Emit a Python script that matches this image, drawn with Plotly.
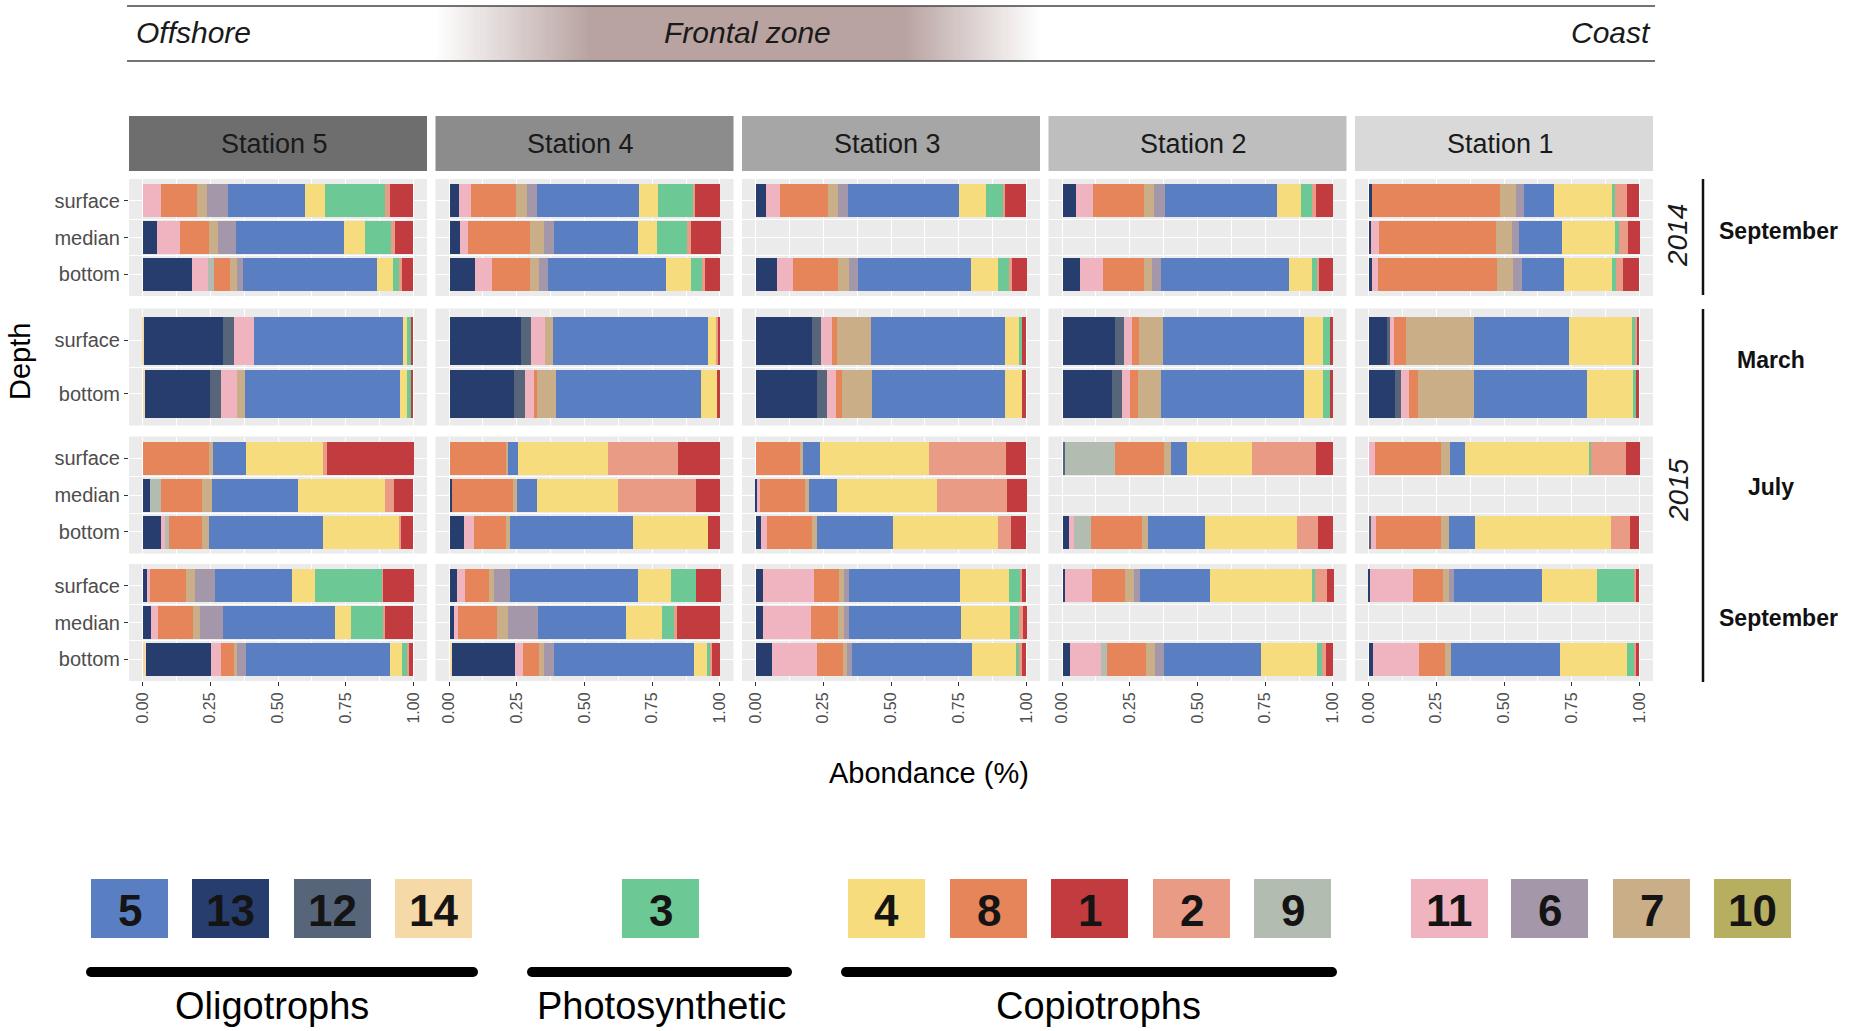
import plotly.graph_objects as go

# ---------------- data ----------------
# stacking order left -> right (cluster ids)
CLUSTERS = ["14", "13", "12", "11", "10", "9", "8", "7", "6", "5", "4", "3", "2", "1"]
COLORS = {
    "5": "#5A7EC2", "13": "#263D6D", "12": "#56657A", "14": "#F5D9A6",
    "3": "#6CC894", "4": "#F6DC7C", "8": "#E6845A", "1": "#C23B3E",
    "2": "#E99B86", "9": "#B2BCB0", "11": "#F0B4C1", "6": "#A497A9",
    "7": "#C9AE87", "10": "#B5AF5F",
}
STATIONS = ["Station 5", "Station 4", "Station 3", "Station 2", "Station 1"]
PERIODS = ["Sep 2014", "Mar 2015", "Jul 2015", "Sep 2015"]
DEPTHS = {
    "Sep 2014": ["surface", "median", "bottom"],
    "Mar 2015": ["surface", "bottom"],
    "Jul 2015": ["surface", "median", "bottom"],
    "Sep 2015": ["surface", "median", "bottom"],
}
DEPTH_POS = {"surface": 3, "median": 2, "bottom": 1}
DEPTH_POS_2 = {"surface": 2, "bottom": 1}
X_TICKS = [0, 0.25, 0.5, 0.75, 1.0]
X_TICKTEXT = ["0.00", "0.25", "0.50", "0.75", "1.00"]

# values per sample, in CLUSTERS order (14,13,12,11,10,9,8,7,6,5,4,3,2,1)
station_5 = {
    ("Sep 2014", "surface"): [0, 0, 0, .069, 0, 0, .132, .036, .079, .285, .072, .222, .018, .087],
    ("Sep 2014", "median"):  [0, .053, 0, .086, 0, 0, .105, .036, .064, .401, .076, .095, .016, .067],
    ("Sep 2014", "bottom"):  [0, .184, 0, .059, 0, .020, .059, .026, .021, .498, .056, .026, .007, .043],
    ("Mar 2015", "surface"): [.007, .291, .039, .076, 0, 0, 0, 0, 0, .549, .015, .013, 0, .010],
    ("Mar 2015", "bottom"):  [.008, .242, .038, .061, 0, 0, 0, .028, 0, .574, .026, .013, 0, .010],
    ("Jul 2015", "surface"): [0, 0, 0, 0, 0, 0, .247, .013, 0, .122, .285, 0, .013, .321],
    ("Jul 2015", "median"):  [0, .028, 0, 0, 0, .041, .151, .038, 0, .317, .319, 0, .035, .071],
    ("Jul 2015", "bottom"):  [0, .069, 0, .015, 0, .015, .122, .026, 0, .419, .283, 0, .005, .046],
    ("Sep 2015", "surface"): [0, .016, 0, .013, 0, 0, .133, .030, .074, .285, .086, .247, .005, .112],
    ("Sep 2015", "median"):  [0, .031, 0, .025, 0, 0, .130, .026, .084, .416, .058, .118, .007, .105],
    ("Sep 2015", "bottom"):  [.012, .240, 0, .036, 0, 0, .048, .013, .033, .530, .046, .021, .005, .016],
}
station_4 = {
    ("Sep 2014", "surface"): [0, .034, 0, .044, 0, 0, .169, .038, .039, .377, .070, .126, .008, .093],
    ("Sep 2014", "median"):  [0, .038, 0, .030, 0, 0, .230, .049, .038, .310, .070, .111, .015, .110],
    ("Sep 2014", "bottom"):  [0, .095, 0, .062, 0, 0, .139, .036, .030, .438, .092, .041, .011, .056],
    ("Mar 2015", "surface"): [0, .262, .038, .053, 0, 0, 0, .030, 0, .571, .033, 0, .007, .006],
    ("Mar 2015", "bottom"):  [0, .239, .041, .030, 0, 0, .013, .069, 0, .538, .059, 0, 0, .010],
    ("Jul 2015", "surface"): [0, 0, 0, 0, 0, 0, .207, .008, 0, .038, .331, 0, .259, .157],
    ("Jul 2015", "median"):  [0, .010, 0, 0, 0, 0, .225, .015, 0, .074, .297, 0, .290, .089],
    ("Jul 2015", "bottom"):  [0, .052, 0, .039, 0, 0, .118, .013, 0, .456, .277, 0, 0, .044],
    ("Sep 2015", "surface"): [0, .026, 0, .030, 0, 0, .089, .020, .059, .470, .125, .089, 0, .093],
    ("Sep 2015", "median"):  [0, .018, 0, .013, 0, 0, .143, .041, .110, .325, .136, .044, .011, .159],
    ("Sep 2015", "bottom"):  [.010, .230, 0, .030, 0, 0, .061, .016, .038, .518, .046, .015, .005, .031],
}
station_3 = {
    ("Sep 2014", "surface"): [0, .038, 0, .054, 0, 0, .177, .036, .036, .411, .099, .061, .010, .077],
    ("Sep 2014", "bottom"):  [0, .081, 0, .058, 0, 0, .166, .041, .032, .416, .102, .038, .012, .055],
    ("Mar 2015", "surface"): [0, .207, .036, .038, 0, 0, .020, .126, 0, .492, .054, .012, 0, .015],
    ("Mar 2015", "bottom"):  [0, .226, .039, .031, 0, 0, .022, .112, 0, .489, .066, 0, 0, .015],
    ("Jul 2015", "surface"): [0, 0, 0, 0, 0, 0, .164, .010, 0, .065, .401, 0, .283, .076],
    ("Jul 2015", "median"):  [0, .006, 0, .010, 0, 0, .167, .016, 0, .100, .372, 0, .257, .073],
    ("Jul 2015", "bottom"):  [0, .019, 0, .025, 0, 0, .164, .017, 0, .283, .387, 0, .049, .055],
    ("Sep 2015", "surface"): [0, .026, 0, .189, 0, 0, .094, .019, .017, .411, .180, .039, .009, .015],
    ("Sep 2015", "median"):  [0, .026, 0, .179, 0, 0, .100, .020, .019, .413, .182, .035, .012, .015],
    ("Sep 2015", "bottom"):  [0, .062, 0, .163, 0, 0, .096, .017, .017, .443, .164, .010, .012, .015],
}
station_2 = {
    ("Sep 2014", "surface"): [0, .049, 0, .064, 0, 0, .187, .039, .041, .411, .091, .038, .015, .065],
    ("Sep 2014", "bottom"):  [0, .064, 0, .084, 0, 0, .152, .029, .033, .473, .084, .019, .010, .051],
    ("Mar 2015", "surface"): [0, .192, .036, .029, 0, 0, .026, .087, 0, .521, .070, .026, 0, .013],
    ("Mar 2015", "bottom"):  [0, .184, .036, .029, 0, 0, .029, .084, 0, .528, .073, .023, 0, .013],
    ("Jul 2015", "surface"): [0, 0, .009, 0, 0, .183, .181, .026, 0, .061, .239, 0, .235, .065],
    ("Jul 2015", "bottom"):  [0, .022, 0, .022, 0, .061, .189, .022, 0, .208, .342, 0, .077, .057],
    ("Sep 2015", "surface"): [0, .010, 0, .099, 0, 0, .122, .033, .022, .258, .376, .012, .044, .025],
    ("Sep 2015", "bottom"):  [0, .029, 0, .112, 0, .022, .145, .033, .032, .358, .208, .017, .016, .028],
}
station_1 = {
    ("Sep 2014", "surface"): [0, .012, 0, 0, 0, 0, .473, .061, .028, .109, .215, .012, .043, .046],
    ("Sep 2014", "median"):  [0, .010, 0, .027, 0, 0, .433, .059, .028, .158, .193, .015, .034, .044],
    ("Sep 2014", "bottom"):  [0, .012, 0, .024, 0, 0, .439, .059, .034, .155, .175, .015, .028, .059],
    ("Mar 2015", "surface"): [0, .067, .011, .017, 0, 0, .042, .251, 0, .353, .233, .010, .006, .010],
    ("Mar 2015", "bottom"):  [0, .098, .022, .029, 0, 0, .032, .207, 0, .420, .169, .010, 0, .012],
    ("Jul 2015", "surface"): [0, 0, 0, .022, 0, 0, .247, .033, 0, .053, .458, .009, .130, .049],
    ("Jul 2015", "bottom"):  [0, 0, .010, .017, 0, 0, .242, .029, 0, .095, .501, 0, .071, .034],
    ("Sep 2015", "surface"): [0, .006, 0, .159, 0, 0, .110, .021, .020, .325, .202, .137, .007, .012],
    ("Sep 2015", "bottom"):  [0, .016, 0, .170, 0, 0, .096, .022, 0, .403, .246, .029, .007, .010],
}
STATION_DATA = [station_5, station_4, station_3, station_2, station_1]

LEGEND_GROUPS = [
    ("Oligotrophs", ["5", "13", "12", "14"]),
    ("Photosynthetic", ["3"]),
    ("Copiotrophs", ["4", "8", "1", "2", "9"]),
    ("", ["11", "6", "7", "10"]),
]

# ---------------- layout helpers ----------------
W, H = 1850, 1031
FONT = "Liberation Sans, Arial, sans-serif"


def fx(x):
    return x / W


def fy(y):
    return 1 - y / H


COL_LEFT = [129, 435.5, 742, 1048.5, 1355]
COL_W = 298
ROW_TOP = [179, 308.5, 436.5, 564]
ROW_H = 117
STRIP_COLORS = ["#6e6e6e", "#8c8c8c", "#a6a6a6", "#bebebe", "#d9d9d9"]

fig = go.Figure()
layout_axes = {}
shapes = []
annotations = []

for r, period in enumerate(PERIODS):
    depths = DEPTHS[period]
    pos_map = DEPTH_POS if len(depths) == 3 else DEPTH_POS_2
    ncat = len(depths)
    for c, st in enumerate(STATIONS):
        k = r * 5 + c + 1
        xa = "x" if k == 1 else f"x{k}"
        ya = "y" if k == 1 else f"y{k}"
        data = STATION_DATA[c]
        samples = [d for d in depths if (period, d) in data]
        for ci, cl in enumerate(CLUSTERS):
            ys = [pos_map[d] for d in samples]
            xs = [data[(period, d)][ci] for d in samples]
            if not any(v > 0 for v in xs):
                continue
            fig.add_trace(go.Bar(
                orientation="h", x=xs, y=ys, width=0.9,
                marker=dict(color=COLORS[cl], line=dict(width=0)),
                xaxis=xa, yaxis=ya, showlegend=False, name=cl,
                hovertemplate=f"cluster {cl}: %{{x:.3f}}<extra></extra>",
            ))
        x0, x1 = COL_LEFT[c], COL_LEFT[c] + COL_W
        y0, y1 = ROW_TOP[r], ROW_TOP[r] + ROW_H
        bottom_row = (r == len(PERIODS) - 1)
        layout_axes[f"xaxis{k}" if k > 1 else "xaxis"] = dict(
            domain=[fx(x0), fx(x1)], anchor=ya, range=[-0.05, 1.05],
            tickvals=X_TICKS, ticktext=X_TICKTEXT, showticklabels=bottom_row,
            tickangle=-90, ticks="outside" if bottom_row else "", ticklen=4,
            tickcolor="#333333", tickwidth=1,
            tickfont=dict(family=FONT, size=16, color="#4d4d4d"),
            showgrid=True, gridcolor="white", gridwidth=1.3, zeroline=False,
            showline=False, fixedrange=True,
            minor=dict(tickvals=[0.125, 0.375, 0.625, 0.875], showgrid=True,
                       gridcolor="white", gridwidth=0.6, ticks=""),
        )
        yv = list(range(1, ncat + 1))
        yt = list(reversed(depths))
        layout_axes[f"yaxis{k}" if k > 1 else "yaxis"] = dict(
            domain=[fy(y1), fy(y0)], anchor=xa, range=[0.4, ncat + 0.6],
            tickvals=yv, ticktext=yt, showticklabels=(c == 0),
            ticks="outside" if c == 0 else "", ticklen=4, tickcolor="#333333",
            tickfont=dict(family=FONT, size=20, color="#4d4d4d"),
            showgrid=True, gridcolor="white", gridwidth=1.3, zeroline=False,
            showline=False, fixedrange=True,
            minor=dict(tickvals=[v + 0.5 for v in yv[:-1]], showgrid=True,
                       gridcolor="white", gridwidth=0.6, ticks=""),
        )

# strips
for c, st in enumerate(STATIONS):
    x0, x1 = COL_LEFT[c], COL_LEFT[c] + COL_W
    shapes.append(dict(type="rect", xref="paper", yref="paper",
                       x0=fx(x0), x1=fx(x1), y0=fy(171), y1=fy(116),
                       fillcolor=STRIP_COLORS[c], line=dict(width=0), layer="below"))
    annotations.append(dict(text=st, xref="paper", yref="paper",
                            x=fx((x0 + x1) / 2 - 4), y=fy(144), showarrow=False,
                            xanchor="center", yanchor="middle",
                            font=dict(family=FONT, size=27, color="#1a1a1a")))

# banner gradient (frontal zone)
base = (184, 163, 161)


def blend(a):
    return "rgb(%d,%d,%d)" % tuple(round(255 + (b - 255) * a) for b in base)


step = 3
for xl in range(435, 1042, step):
    xm = xl + step / 2
    if xm < 590:
        a = (xm - 435) / (590 - 435)
    elif xm > 904:
        a = (1041 - xm) / (1041 - 904)
    else:
        a = 1.0
    a = max(0.0, min(1.0, a))
    shapes.append(dict(type="rect", xref="paper", yref="paper",
                       x0=fx(xl), x1=fx(min(xl + step + 0.5, 1041)), y0=fy(61), y1=fy(6),
                       fillcolor=blend(a), line=dict(width=0), layer="below"))
for yl in (6, 61):
    shapes.append(dict(type="line", xref="paper", yref="paper",
                       x0=fx(127), x1=fx(1655), y0=fy(yl), y1=fy(yl),
                       line=dict(color="#444444", width=1.5)))
banner = [
    dict(text="<i>Offshore</i>", x=fx(134), y=fy(33), xanchor="left"),
    dict(text="<i>Frontal zone</i>", x=fx(747), y=fy(33), xanchor="center"),
    dict(text="<i>Coast</i>", x=fx(1653), y=fy(33), xanchor="right"),
]
for a in banner:
    a.update(xref="paper", yref="paper", showarrow=False, yanchor="middle",
             font=dict(family=FONT, size=30, color="#1a1a1a"))
annotations += banner

# axis titles
annotations.append(dict(text="Depth", xref="paper", yref="paper", x=fx(20), y=fy(362),
                        textangle=-90, showarrow=False, xanchor="center", yanchor="middle",
                        font=dict(family=FONT, size=29, color="black")))
annotations.append(dict(text="Abondance (%)", xref="paper", yref="paper", x=fx(929), y=fy(773),
                        showarrow=False, xanchor="center", yanchor="middle",
                        font=dict(family=FONT, size=29, color="black")))

# right side labels
for txt, yc in (("2014", 236), ("2015", 490)):
    annotations.append(dict(text=f"<i>{txt}</i>", xref="paper", yref="paper", x=fx(1678), y=fy(yc),
                            textangle=-90, showarrow=False, xanchor="center", yanchor="middle",
                            font=dict(family=FONT, size=28, color="#1a1a1a")))
for y0, y1 in ((179, 295), (309, 682)):
    shapes.append(dict(type="line", xref="paper", yref="paper", x0=fx(1703), x1=fx(1703),
                       y0=fy(y0), y1=fy(y1), line=dict(color="#111111", width=2.5)))
for txt, xc, yc in (("September", 1778, 231), ("March", 1771, 360),
                    ("July", 1771, 487), ("September", 1778, 618)):
    annotations.append(dict(text=f"<b>{txt}</b>", xref="paper", yref="paper", x=fx(xc), y=fy(yc),
                            showarrow=False, xanchor="center", yanchor="middle",
                            font=dict(family=FONT, size=23, color="#111111")))

# legend
BOX_LEFT = {"5": 91, "13": 192, "12": 294, "14": 395, "3": 622, "4": 848, "8": 950,
            "1": 1051, "2": 1153, "9": 1254, "11": 1411, "6": 1511, "7": 1613, "10": 1714}
BOX_W = 77
for grp, members in LEGEND_GROUPS:
    for cl in members:
        xl = BOX_LEFT[cl]
        shapes.append(dict(type="rect", xref="paper", yref="paper", x0=fx(xl), x1=fx(xl + BOX_W),
                           y0=fy(938), y1=fy(879), fillcolor=COLORS[cl], line=dict(width=0)))
        annotations.append(dict(text=f"<b>{cl}</b>", xref="paper", yref="paper",
                                x=fx(xl + BOX_W / 2), y=fy(910), showarrow=False,
                                xanchor="center", yanchor="middle",
                                font=dict(family=FONT, size=44, color="#141414")))
GROUP_LINES = {"Oligotrophs": (91, 473, 272), "Photosynthetic": (532, 787, 661),
               "Copiotrophs": (846, 1332, 1098)}
for name, (xa_, xb_, xc_) in GROUP_LINES.items():
    shapes.append(dict(type="line", xref="paper", yref="paper", x0=fx(xa_), x1=fx(xb_),
                       y0=fy(972), y1=fy(972), line=dict(color="black", width=10)))
    for xe in (xa_, xb_):
        shapes.append(dict(type="circle", xref="paper", yref="paper", x0=fx(xe - 5), x1=fx(xe + 5),
                           y0=fy(977), y1=fy(967), fillcolor="black", line=dict(width=0)))
    annotations.append(dict(text=name, xref="paper", yref="paper", x=fx(xc_),
                            y=fy(1006), showarrow=False, xanchor="center", yanchor="middle",
                            font=dict(family=FONT, size=38, color="black")))

fig.update_layout(
    width=W, height=H, margin=dict(l=0, r=0, t=0, b=0),
    paper_bgcolor="white", plot_bgcolor="#EBEBEB",
    barmode="stack", bargap=0, showlegend=False,
    shapes=shapes, annotations=annotations,
    font=dict(family=FONT),
    **layout_axes,
)

fig.write_html("out.html", config={"displayModeBar": False},
               post_script="document.body.style.margin='0px';")
